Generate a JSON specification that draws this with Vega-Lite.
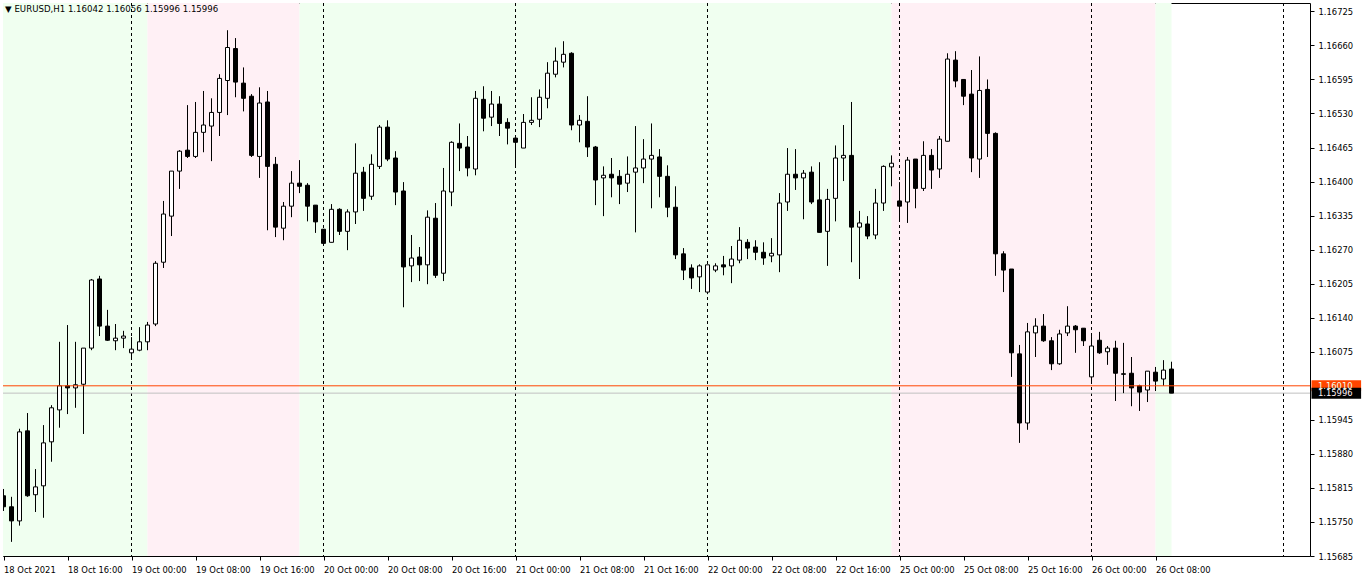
{
  "$schema": "https://vega.github.io/schema/vega-lite/v6.json",
  "width": 1307,
  "height": 553,
  "autosize": "none",
  "padding": {"left": 3, "top": 3, "right": 52, "bottom": 25},
  "background": "white",
  "config": {
    "view": {"stroke": "black", "strokeWidth": 1, "fill": "white"},
    "font": "DejaVu Sans",
    "scale": {"continuousPadding": 0},
    "axis": {"labelFont": "DejaVu Sans", "labelFontSize": 8.4, "labelColor": "black", "tickColor": "black", "domain": false, "grid": false, "title": null, "labelOverlap": false, "labelSeparation": 0}
  },
  "datasets": {
    "bg": [
      {"s": -1, "e": 18, "k": "g"},
      {"s": 18, "e": 37, "k": "p"},
      {"s": 37, "e": 111, "k": "g"},
      {"s": 111, "e": 144, "k": "p"},
      {"s": 144, "e": 146, "k": "g"}
    ],
    "sep": [{"i": 16}, {"i": 40}, {"i": 64}, {"i": 88}, {"i": 112}, {"i": 136}, {"i": 160}],
    "marks": [
      {"p": 1.16010, "lab": "1.16010", "k": "level"},
      {"p": 1.15996, "lab": "1.15996", "k": "bid"}
    ],
    "bars": [
      {"i":0,"o":1.15800,"h":1.15813,"l":1.15771,"c":1.15779},
      {"i":1,"o":1.15779,"h":1.15798,"l":1.15712,"c":1.15752},
      {"i":2,"o":1.15752,"h":1.15928,"l":1.15743,"c":1.15922},
      {"i":3,"o":1.15924,"h":1.15958,"l":1.15798,"c":1.15800},
      {"i":4,"o":1.15802,"h":1.15851,"l":1.15769,"c":1.15817},
      {"i":5,"o":1.15819,"h":1.15935,"l":1.15758,"c":1.15901},
      {"i":6,"o":1.15903,"h":1.15973,"l":1.15865,"c":1.15968},
      {"i":7,"o":1.15964,"h":1.16094,"l":1.15930,"c":1.16010},
      {"i":8,"o":1.16010,"h":1.16126,"l":1.15956,"c":1.16006},
      {"i":9,"o":1.16006,"h":1.16094,"l":1.15968,"c":1.16012},
      {"i":10,"o":1.16013,"h":1.16082,"l":1.15918,"c":1.16082},
      {"i":11,"o":1.16082,"h":1.16214,"l":1.16078,"c":1.16212},
      {"i":12,"o":1.16214,"h":1.16220,"l":1.16105,"c":1.16124},
      {"i":13,"o":1.16124,"h":1.16155,"l":1.16096,"c":1.16097},
      {"i":14,"o":1.16096,"h":1.16128,"l":1.16078,"c":1.16101},
      {"i":15,"o":1.16101,"h":1.16115,"l":1.16082,"c":1.16105},
      {"i":16,"o":1.16073,"h":1.16103,"l":1.16065,"c":1.16080},
      {"i":17,"o":1.16078,"h":1.16122,"l":1.16076,"c":1.16094},
      {"i":18,"o":1.16094,"h":1.16132,"l":1.16078,"c":1.16126},
      {"i":19,"o":1.16128,"h":1.16248,"l":1.16124,"c":1.16244},
      {"i":20,"o":1.16246,"h":1.16363,"l":1.16235,"c":1.16338},
      {"i":21,"o":1.16334,"h":1.16420,"l":1.16296,"c":1.16420},
      {"i":22,"o":1.16420,"h":1.16460,"l":1.16386,"c":1.16458},
      {"i":23,"o":1.16460,"h":1.16546,"l":1.16445,"c":1.16448},
      {"i":24,"o":1.16448,"h":1.16552,"l":1.16445,"c":1.16494},
      {"i":25,"o":1.16494,"h":1.16573,"l":1.16456,"c":1.16508},
      {"i":26,"o":1.16506,"h":1.16559,"l":1.16439,"c":1.16532},
      {"i":27,"o":1.16532,"h":1.16605,"l":1.16487,"c":1.16597},
      {"i":28,"o":1.16593,"h":1.16689,"l":1.16527,"c":1.16656},
      {"i":29,"o":1.16654,"h":1.16674,"l":1.16561,"c":1.16590},
      {"i":30,"o":1.16588,"h":1.16618,"l":1.16534,"c":1.16559},
      {"i":31,"o":1.16563,"h":1.16567,"l":1.16447,"c":1.16450},
      {"i":32,"o":1.16448,"h":1.16580,"l":1.16407,"c":1.16550},
      {"i":33,"o":1.16552,"h":1.16573,"l":1.16307,"c":1.16429},
      {"i":34,"o":1.16433,"h":1.16447,"l":1.16294,"c":1.16313},
      {"i":35,"o":1.16311,"h":1.16361,"l":1.16288,"c":1.16353},
      {"i":36,"o":1.16353,"h":1.16420,"l":1.16332,"c":1.16397},
      {"i":37,"o":1.16397,"h":1.16441,"l":1.16378,"c":1.16391},
      {"i":38,"o":1.16393,"h":1.16397,"l":1.16324,"c":1.16353},
      {"i":39,"o":1.16355,"h":1.16355,"l":1.16302,"c":1.16323},
      {"i":40,"o":1.16309,"h":1.16309,"l":1.16282,"c":1.16282},
      {"i":41,"o":1.16284,"h":1.16357,"l":1.16284,"c":1.16347},
      {"i":42,"o":1.16347,"h":1.16349,"l":1.16298,"c":1.16305},
      {"i":43,"o":1.16305,"h":1.16347,"l":1.16269,"c":1.16342},
      {"i":44,"o":1.16342,"h":1.16473,"l":1.16319,"c":1.16416},
      {"i":45,"o":1.16418,"h":1.16428,"l":1.16344,"c":1.16368},
      {"i":46,"o":1.16372,"h":1.16452,"l":1.16365,"c":1.16433},
      {"i":47,"o":1.16429,"h":1.16508,"l":1.16424,"c":1.16504},
      {"i":48,"o":1.16504,"h":1.16517,"l":1.16439,"c":1.16443},
      {"i":49,"o":1.16445,"h":1.16458,"l":1.16355,"c":1.16380},
      {"i":50,"o":1.16382,"h":1.16399,"l":1.16160,"c":1.16237},
      {"i":51,"o":1.16239,"h":1.16298,"l":1.16208,"c":1.16254},
      {"i":52,"o":1.16256,"h":1.16275,"l":1.16210,"c":1.16241},
      {"i":53,"o":1.16241,"h":1.16345,"l":1.16204,"c":1.16332},
      {"i":54,"o":1.16330,"h":1.16359,"l":1.16216,"c":1.16221},
      {"i":55,"o":1.16225,"h":1.16426,"l":1.16210,"c":1.16382},
      {"i":56,"o":1.16380,"h":1.16477,"l":1.16353,"c":1.16475},
      {"i":57,"o":1.16473,"h":1.16511,"l":1.16420,"c":1.16464},
      {"i":58,"o":1.16466,"h":1.16487,"l":1.16410,"c":1.16426},
      {"i":59,"o":1.16424,"h":1.16573,"l":1.16412,"c":1.16559},
      {"i":60,"o":1.16557,"h":1.16582,"l":1.16496,"c":1.16521},
      {"i":61,"o":1.16523,"h":1.16573,"l":1.16506,"c":1.16548},
      {"i":62,"o":1.16548,"h":1.16563,"l":1.16487,"c":1.16511},
      {"i":63,"o":1.16513,"h":1.16521,"l":1.16471,"c":1.16502},
      {"i":64,"o":1.16483,"h":1.16483,"l":1.16429,"c":1.16475},
      {"i":65,"o":1.16464,"h":1.16529,"l":1.16464,"c":1.16513},
      {"i":66,"o":1.16513,"h":1.16561,"l":1.16508,"c":1.16517},
      {"i":67,"o":1.16519,"h":1.16576,"l":1.16504,"c":1.16561},
      {"i":68,"o":1.16559,"h":1.16628,"l":1.16540,"c":1.16607},
      {"i":69,"o":1.16605,"h":1.16656,"l":1.16599,"c":1.16630},
      {"i":70,"o":1.16628,"h":1.16668,"l":1.16618,"c":1.16643},
      {"i":71,"o":1.16645,"h":1.16647,"l":1.16498,"c":1.16508},
      {"i":72,"o":1.16508,"h":1.16527,"l":1.16475,"c":1.16517},
      {"i":73,"o":1.16515,"h":1.16563,"l":1.16447,"c":1.16466},
      {"i":74,"o":1.16466,"h":1.16468,"l":1.16355,"c":1.16403},
      {"i":75,"o":1.16407,"h":1.16429,"l":1.16334,"c":1.16412},
      {"i":76,"o":1.16414,"h":1.16445,"l":1.16370,"c":1.16407},
      {"i":77,"o":1.16410,"h":1.16422,"l":1.16357,"c":1.16395},
      {"i":78,"o":1.16397,"h":1.16448,"l":1.16380,"c":1.16414},
      {"i":79,"o":1.16418,"h":1.16506,"l":1.16303,"c":1.16426},
      {"i":80,"o":1.16426,"h":1.16481,"l":1.16397,"c":1.16443},
      {"i":81,"o":1.16443,"h":1.16511,"l":1.16349,"c":1.16450},
      {"i":82,"o":1.16447,"h":1.16462,"l":1.16370,"c":1.16410},
      {"i":83,"o":1.16410,"h":1.16431,"l":1.16332,"c":1.16351},
      {"i":84,"o":1.16351,"h":1.16391,"l":1.16252,"c":1.16260},
      {"i":85,"o":1.16262,"h":1.16273,"l":1.16212,"c":1.16231},
      {"i":86,"o":1.16235,"h":1.16242,"l":1.16195,"c":1.16216},
      {"i":87,"o":1.16218,"h":1.16242,"l":1.16189,"c":1.16239},
      {"i":88,"o":1.16189,"h":1.16241,"l":1.16185,"c":1.16241},
      {"i":89,"o":1.16231,"h":1.16244,"l":1.16227,"c":1.16239},
      {"i":90,"o":1.16241,"h":1.16258,"l":1.16221,"c":1.16237},
      {"i":91,"o":1.16239,"h":1.16277,"l":1.16206,"c":1.16252},
      {"i":92,"o":1.16250,"h":1.16313,"l":1.16244,"c":1.16288},
      {"i":93,"o":1.16284,"h":1.16290,"l":1.16252,"c":1.16273},
      {"i":94,"o":1.16275,"h":1.16288,"l":1.16250,"c":1.16265},
      {"i":95,"o":1.16265,"h":1.16284,"l":1.16241,"c":1.16254},
      {"i":96,"o":1.16258,"h":1.16292,"l":1.16246,"c":1.16263},
      {"i":97,"o":1.16260,"h":1.16378,"l":1.16227,"c":1.16359},
      {"i":98,"o":1.16361,"h":1.16464,"l":1.16344,"c":1.16414},
      {"i":99,"o":1.16414,"h":1.16462,"l":1.16384,"c":1.16407},
      {"i":100,"o":1.16407,"h":1.16422,"l":1.16328,"c":1.16416},
      {"i":101,"o":1.16418,"h":1.16429,"l":1.16357,"c":1.16361},
      {"i":102,"o":1.16365,"h":1.16437,"l":1.16303,"c":1.16303},
      {"i":103,"o":1.16305,"h":1.16386,"l":1.16239,"c":1.16366},
      {"i":104,"o":1.16368,"h":1.16469,"l":1.16324,"c":1.16445},
      {"i":105,"o":1.16445,"h":1.16508,"l":1.16401,"c":1.16450},
      {"i":106,"o":1.16450,"h":1.16552,"l":1.16246,"c":1.16313},
      {"i":107,"o":1.16313,"h":1.16344,"l":1.16214,"c":1.16321},
      {"i":108,"o":1.16319,"h":1.16334,"l":1.16290,"c":1.16296},
      {"i":109,"o":1.16298,"h":1.16386,"l":1.16290,"c":1.16359},
      {"i":110,"o":1.16359,"h":1.16431,"l":1.16344,"c":1.16429},
      {"i":111,"o":1.16428,"h":1.16450,"l":1.16391,"c":1.16435},
      {"i":112,"o":1.16363,"h":1.16399,"l":1.16324,"c":1.16353},
      {"i":113,"o":1.16361,"h":1.16447,"l":1.16321,"c":1.16441},
      {"i":114,"o":1.16443,"h":1.16443,"l":1.16349,"c":1.16387},
      {"i":115,"o":1.16387,"h":1.16477,"l":1.16382,"c":1.16450},
      {"i":116,"o":1.16450,"h":1.16462,"l":1.16386,"c":1.16422},
      {"i":117,"o":1.16424,"h":1.16487,"l":1.16407,"c":1.16481},
      {"i":118,"o":1.16477,"h":1.16645,"l":1.16477,"c":1.16634},
      {"i":119,"o":1.16632,"h":1.16649,"l":1.16580,"c":1.16592},
      {"i":120,"o":1.16595,"h":1.16595,"l":1.16546,"c":1.16563},
      {"i":121,"o":1.16567,"h":1.16613,"l":1.16418,"c":1.16445},
      {"i":122,"o":1.16443,"h":1.16639,"l":1.16407,"c":1.16574},
      {"i":123,"o":1.16576,"h":1.16595,"l":1.16447,"c":1.16492},
      {"i":124,"o":1.16492,"h":1.16494,"l":1.16220,"c":1.16262},
      {"i":125,"o":1.16262,"h":1.16267,"l":1.16189,"c":1.16231},
      {"i":126,"o":1.16233,"h":1.16233,"l":1.16027,"c":1.16073},
      {"i":127,"o":1.16071,"h":1.16088,"l":1.15901,"c":1.15939},
      {"i":128,"o":1.15939,"h":1.16130,"l":1.15926,"c":1.16113},
      {"i":129,"o":1.16111,"h":1.16139,"l":1.16065,"c":1.16124},
      {"i":130,"o":1.16124,"h":1.16147,"l":1.16094,"c":1.16096},
      {"i":131,"o":1.16096,"h":1.16103,"l":1.16040,"c":1.16052},
      {"i":132,"o":1.16052,"h":1.16117,"l":1.16050,"c":1.16109},
      {"i":133,"o":1.16111,"h":1.16162,"l":1.16105,"c":1.16124},
      {"i":134,"o":1.16124,"h":1.16126,"l":1.16073,"c":1.16117},
      {"i":135,"o":1.16120,"h":1.16120,"l":1.16086,"c":1.16096},
      {"i":136,"o":1.16027,"h":1.16105,"l":1.16017,"c":1.16086},
      {"i":137,"o":1.16097,"h":1.16113,"l":1.16071,"c":1.16073},
      {"i":138,"o":1.16075,"h":1.16086,"l":1.16050,"c":1.16082},
      {"i":139,"o":1.16082,"h":1.16096,"l":1.15981,"c":1.16034},
      {"i":140,"o":1.16033,"h":1.16092,"l":1.15996,"c":1.16032},
      {"i":141,"o":1.16034,"h":1.16065,"l":1.15971,"c":1.16006},
      {"i":142,"o":1.16010,"h":1.16012,"l":1.15962,"c":1.15998},
      {"i":143,"o":1.16002,"h":1.16038,"l":1.15979,"c":1.16038},
      {"i":144,"o":1.16036,"h":1.16046,"l":1.16000,"c":1.16019},
      {"i":145,"o":1.16023,"h":1.16059,"l":1.16010,"c":1.16040},
      {"i":146,"o":1.16042,"h":1.16056,"l":1.15996,"c":1.15996}
    ]
  },
  "layer": [
    {
      "data": {"name": "bg"},
      "mark": {"type": "rect", "clip": true},
      "encoding": {
        "x": {"field": "s", "type": "quantitative", "title": null, "scale": {"domain": [-0.0625, 163.3125], "nice": false, "zero": false, "padding": 0},
          "axis": {"values": [0,8,16,24,32,40,48,56,64,72,80,88,96,104,112,120,128,136,144], "labelExpr": "datum.value == 0 ? '18 Oct 2021' : (18 + floor((datum.value + 8) / 24) + (datum.value >= 112 ? 2 : 0)) + ' Oct ' + (((datum.value + 8) % 24) < 10 ? '0' : '') + ((datum.value + 8) % 24) + ':00'", "labelAlign": "left", "labelBaseline": "middle", "labelPadding": 9, "tickSize": 4, "labelFlush": false, "labelOverlap": false, "labelBound": false}},
        "x2": {"field": "e"},
        "color": {"field": "k", "type": "nominal", "scale": {"domain": ["g", "p"], "range": ["#F0FFF0", "#FFF0F5"]}, "legend": null}
      }
    },
    {
      "data": {"name": "sep"},
      "mark": {"type": "rule", "color": "black", "strokeWidth": 1, "strokeDash": [3, 3], "clip": true},
      "encoding": {
        "x": {"field": "i", "type": "quantitative", "title": null, "scale": {"domain": [-0.0625, 163.3125], "nice": false, "zero": false, "padding": 0}}
      }
    },
    {
      "data": {"name": "marks"},
      "transform": [{"filter": "datum.k == 'bid'"}],
      "mark": {"type": "rule", "color": "#C0C0C0", "strokeWidth": 1, "clip": true},
      "encoding": {
        "y": {"field": "p", "type": "quantitative", "title": null, "scale": {"domain": [1.15685, 1.16741], "nice": false, "zero": false, "padding": 0},
          "axis": {"orient": "right", "values": [1.16725,1.1666,1.16595,1.1653,1.16465,1.164,1.16335,1.1627,1.16205,1.1614,1.16075,1.15945,1.1588,1.15815,1.1575,1.15685], "format": ".5f", "tickSize": 4, "labelPadding": 4, "labelBaseline": "middle", "labelBound": false, "labelOverlap": false, "labelFlush": false, "labelSeparation": 0}}
      }
    },
    {
      "data": {"name": "bars"},
      "mark": {"type": "rule", "color": "black", "strokeWidth": 1, "clip": true},
      "encoding": {
        "x": {"field": "i", "type": "quantitative", "title": null, "scale": {"domain": [-0.0625, 163.3125], "nice": false, "zero": false, "padding": 0}},
        "y": {"field": "l", "type": "quantitative", "title": null, "scale": {"domain": [1.15685, 1.16741], "nice": false, "zero": false, "padding": 0},
          "axis": {"orient": "right", "values": [1.16725,1.1666,1.16595,1.1653,1.16465,1.164,1.16335,1.1627,1.16205,1.1614,1.16075,1.15945,1.1588,1.15815,1.1575,1.15685], "format": ".5f", "tickSize": 4, "labelPadding": 4, "labelBaseline": "middle", "labelBound": false, "labelOverlap": false, "labelFlush": false, "labelSeparation": 0}},
        "y2": {"field": "h"}
      }
    },
    {
      "data": {"name": "bars"},
      "mark": {"type": "bar", "orient": "vertical", "size": 4, "stroke": "black", "strokeWidth": 1, "clip": true},
      "encoding": {
        "x": {"field": "i", "type": "quantitative", "title": null, "scale": {"domain": [-0.0625, 163.3125], "nice": false, "zero": false, "padding": 0}},
        "y": {"field": "o", "type": "quantitative", "title": null, "scale": {"domain": [1.15685, 1.16741], "nice": false, "zero": false, "padding": 0},
          "axis": {"orient": "right", "values": [1.16725,1.1666,1.16595,1.1653,1.16465,1.164,1.16335,1.1627,1.16205,1.1614,1.16075,1.15945,1.1588,1.15815,1.1575,1.15685], "format": ".5f", "tickSize": 4, "labelPadding": 4, "labelBaseline": "middle", "labelBound": false, "labelOverlap": false, "labelFlush": false, "labelSeparation": 0}},
        "y2": {"field": "c"},
        "fill": {"condition": {"test": "datum.c < datum.o", "value": "black"}, "value": "white"}
      }
    },
    {
      "data": {"name": "marks"},
      "transform": [{"filter": "datum.k == 'level'"}],
      "mark": {"type": "rule", "color": "#FF4500", "strokeWidth": 1, "clip": true},
      "encoding": {
        "y": {"field": "p", "type": "quantitative", "title": null, "scale": {"domain": [1.15685, 1.16741], "nice": false, "zero": false, "padding": 0},
          "axis": {"orient": "right", "values": [1.16725,1.1666,1.16595,1.1653,1.16465,1.164,1.16335,1.1627,1.16205,1.1614,1.16075,1.15945,1.1588,1.15815,1.1575,1.15685], "format": ".5f", "tickSize": 4, "labelPadding": 4, "labelBaseline": "middle", "labelBound": false, "labelOverlap": false, "labelFlush": false, "labelSeparation": 0}}
      }
    },
    {
      "data": {"name": "marks"},
      "mark": {"type": "bar", "orient": "horizontal", "size": 11, "clip": false},
      "encoding": {
        "y": {"field": "p", "type": "quantitative", "title": null, "scale": {"domain": [1.15685, 1.16741], "nice": false, "zero": false, "padding": 0},
          "axis": {"orient": "right", "values": [1.16725,1.1666,1.16595,1.1653,1.16465,1.164,1.16335,1.1627,1.16205,1.1614,1.16075,1.15945,1.1588,1.15815,1.1575,1.15685], "format": ".5f", "tickSize": 4, "labelPadding": 4, "labelBaseline": "middle", "labelBound": false, "labelOverlap": false, "labelFlush": false, "labelSeparation": 0}},
        "x": {"datum": 163.5, "type": "quantitative", "scale": {"domain": [-0.0625, 163.3125], "nice": false, "zero": false, "padding": 0}},
        "x2": {"datum": 169.7},
        "fill": {"field": "k", "type": "nominal", "scale": {"domain": ["level", "bid"], "range": ["#FF4500", "#000000"]}, "legend": null}
      }
    },
    {
      "data": {"name": "marks"},
      "mark": {"type": "text", "align": "left", "baseline": "middle", "font": "DejaVu Sans", "fontSize": 8.4, "clip": false},
      "encoding": {
        "y": {"field": "p", "type": "quantitative", "title": null, "scale": {"domain": [1.15685, 1.16741], "nice": false, "zero": false, "padding": 0},
          "axis": {"orient": "right", "values": [1.16725,1.1666,1.16595,1.1653,1.16465,1.164,1.16335,1.1627,1.16205,1.1614,1.16075,1.15945,1.1588,1.15815,1.1575,1.15685], "format": ".5f", "tickSize": 4, "labelPadding": 4, "labelBaseline": "middle", "labelBound": false, "labelOverlap": false, "labelFlush": false, "labelSeparation": 0}},
        "x": {"datum": 164.3, "type": "quantitative", "scale": {"domain": [-0.0625, 163.3125], "nice": false, "zero": false, "padding": 0}},
        "text": {"field": "lab"},
        "color": {"field": "k", "type": "nominal", "scale": {"domain": ["level", "bid"], "range": ["#000000", "#FFFFFF"]}, "legend": null}
      }
    },
    {
      "data": {"values": [{"t": "▼  EURUSD,H1  1.16042 1.16056 1.15996 1.15996"}]},
      "mark": {"type": "text", "align": "left", "baseline": "middle", "font": "DejaVu Sans", "fontSize": 8.6, "color": "black", "clip": false},
      "encoding": {
        "x": {"datum": 0.2, "type": "quantitative", "scale": {"domain": [-0.0625, 163.3125], "nice": false, "zero": false, "padding": 0}},
        "y": {"datum": 1.16729, "type": "quantitative", "scale": {"domain": [1.15685, 1.16741], "nice": false, "zero": false, "padding": 0},
          "axis": {"orient": "right", "values": [1.16725,1.1666,1.16595,1.1653,1.16465,1.164,1.16335,1.1627,1.16205,1.1614,1.16075,1.15945,1.1588,1.15815,1.1575,1.15685], "format": ".5f", "tickSize": 4, "labelPadding": 4, "labelBaseline": "middle", "labelBound": false, "labelOverlap": false, "labelFlush": false, "labelSeparation": 0}},
        "text": {"field": "t"}
      }
    }
  ]
}
